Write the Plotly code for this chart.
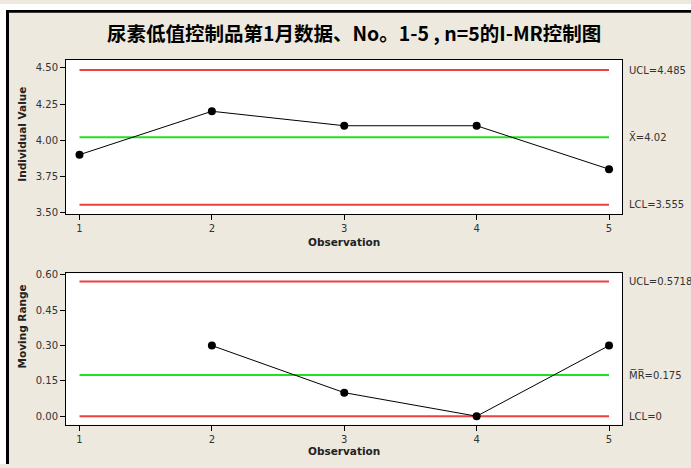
import plotly.graph_objects as go

# I-MR chart data
observations = [1, 2, 3, 4, 5]
values = [3.9, 4.2, 4.1, 4.1, 3.8]
mr_obs = [2, 3, 4, 5]
moving_ranges = [0.3, 0.1, 0.0, 0.3]

x_mean = 4.02
x_ucl = 4.485
x_lcl = 3.555
mr_mean = 0.175
mr_ucl = 0.5718
mr_lcl = 0.0

x_ticks = [3.50, 3.75, 4.00, 4.25, 4.50]
mr_ticks = [0.00, 0.15, 0.30, 0.45, 0.60]

title_text = "尿素低值控制品第1月数据、No。1-5 , n=5的I-MR控制图"

W, H = 691, 468
BG = "#EDE9DF"
RED = "#EE4040"
GREEN = "#22E022"
FONT = "DejaVu Sans"


def px(x):
    return x / W


def py(y):
    return 1 - y / H


fig = go.Figure()

# control limit lines
for xa, ya, ucl, cl, lcl in [("x", "y", x_ucl, x_mean, x_lcl),
                             ("x2", "y2", mr_ucl, mr_mean, mr_lcl)]:
    for val, col in [(ucl, RED), (cl, GREEN), (lcl, RED)]:
        fig.add_trace(go.Scatter(
            x=[observations[0], observations[-1]], y=[val, val],
            mode="lines", line=dict(color=col, width=2),
            xaxis=xa, yaxis=ya, hoverinfo="skip", showlegend=False))

fig.add_trace(go.Scatter(
    x=observations, y=values, mode="lines+markers",
    line=dict(color="black", width=1),
    marker=dict(color="black", size=8),
    xaxis="x", yaxis="y", showlegend=False))

fig.add_trace(go.Scatter(
    x=mr_obs, y=moving_ranges, mode="lines+markers",
    line=dict(color="black", width=1),
    marker=dict(color="black", size=8),
    xaxis="x2", yaxis="y2", showlegend=False))

tickfont = dict(family=FONT, size=10, color="#333333")
axis_common = dict(showline=True, mirror=True, linecolor="black", linewidth=1,
                   ticks="outside", ticklen=5, tickcolor="black", tickwidth=1,
                   showgrid=False, zeroline=False, tickfont=tickfont)

xdom = [px(66), px(622)]
fig.update_layout(
    width=W, height=H,
    margin=dict(l=0, r=0, t=0, b=0),
    paper_bgcolor=BG,
    plot_bgcolor="white",
    showlegend=False,
    xaxis=dict(domain=xdom, range=[0.898, 5.098], tickvals=observations,
               anchor="y", **axis_common),
    yaxis=dict(domain=[py(214), py(57)], range=[3.488, 4.554],
               tickvals=x_ticks, tickformat=".2f", anchor="x", **axis_common),
    xaxis2=dict(domain=xdom, range=[0.898, 5.098], tickvals=observations,
                anchor="y2", **axis_common),
    yaxis2=dict(domain=[py(428), py(274)], range=[-0.036, 0.607],
                tickvals=mr_ticks, tickformat=".2f", anchor="x2", **axis_common),
    shapes=[
        # white outer margin on the left and top
        dict(type="rect", xref="paper", yref="paper", x0=0, x1=px(6),
             y0=0, y1=1, fillcolor="white", line=dict(width=0)),
        dict(type="rect", xref="paper", yref="paper", x0=0, x1=1,
             y0=py(6), y1=1, fillcolor="white", line=dict(width=0)),
        # black frame edges
        dict(type="rect", xref="paper", yref="paper", x0=px(6), x1=px(9),
             y0=0, y1=py(6), fillcolor="black", line=dict(width=0)),
        dict(type="rect", xref="paper", yref="paper", x0=px(6), x1=1,
             y0=py(9), y1=py(6), fillcolor="black", line=dict(width=0)),
    ],
)

annotations = [
    dict(text="<b>" + title_text + "</b>", x=px(354), y=py(29),
         font=dict(family="Noto Sans CJK SC", size=19.5, color="black")),
    dict(text="<b>Individual Value</b>", x=px(22), y=py(132), textangle=-90,
         font=dict(family=FONT, size=10.5, color="#222222")),
    dict(text="<b>Moving Range</b>", x=px(22), y=py(328), textangle=-90,
         font=dict(family=FONT, size=10.5, color="#222222")),
    dict(text="<b>Observation</b>", x=px(344), y=py(242),
         font=dict(family=FONT, size=10.5, color="#222222")),
    dict(text="<b>Observation</b>", x=px(344), y=py(455),
         font=dict(family=FONT, size=10.5, color="#222222")),
]
for a in annotations:
    a.update(xref="paper", yref="paper", showarrow=False,
             xanchor="center", yanchor="middle")

right_font = dict(family=FONT, size=10, color="#333333")
limit_labels = [
    ("y", x_ucl, f"UCL={x_ucl:g}"),
    ("y", x_mean, f"X\u0304={x_mean:g}"),
    ("y", x_lcl, f"LCL={x_lcl:g}"),
    ("y2", mr_ucl, f"UCL={mr_ucl:g}"),
    ("y2", mr_mean, f"M\u0305R\u0305={mr_mean:g}"),
    ("y2", mr_lcl, f"LCL={mr_lcl:g}"),
]
for yref, val, txt in limit_labels:
    annotations.append(dict(text=txt, xref="paper", yref=yref, x=px(627), y=val,
                            xanchor="left", yanchor="middle", showarrow=False,
                            font=right_font))

fig.update_layout(annotations=annotations)

fig.write_html("out.html")
